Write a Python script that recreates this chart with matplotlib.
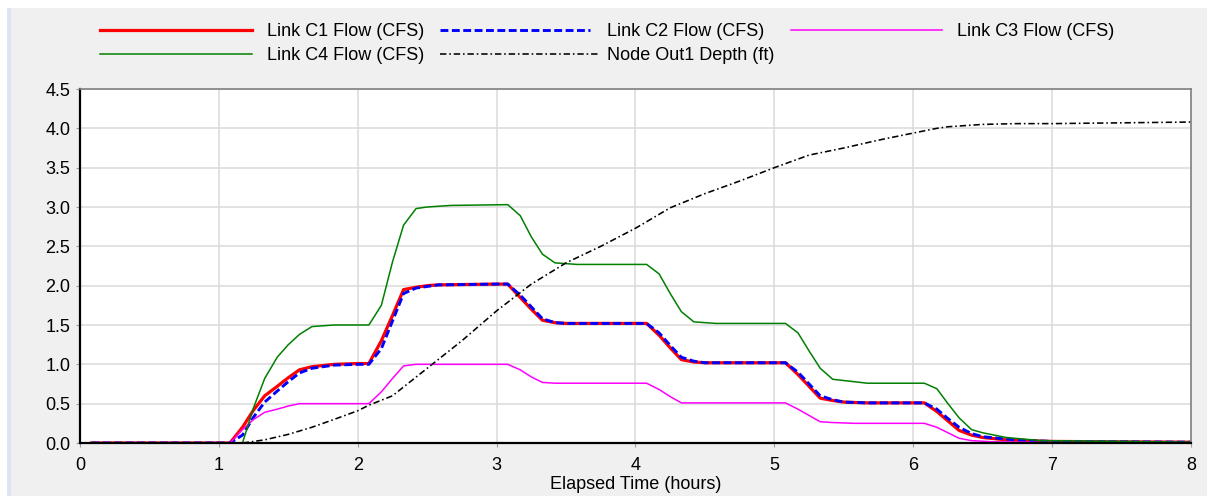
import numpy as np
import matplotlib
matplotlib.use("Agg")
import matplotlib.pyplot as plt
from matplotlib.lines import Line2D
from matplotlib.patches import Rectangle

plt.rcParams['font.family'] = ['Liberation Sans', 'DejaVu Sans']

#########--------- DATA (hours, value)
t_c1 = [0.083, 1.0, 1.08, 1.17, 1.25, 1.33, 1.42, 1.5, 1.58, 1.67, 1.83, 2.0, 2.08, 2.17, 2.25,
        2.33, 2.42, 2.5, 2.58, 3.0, 3.08, 3.17, 3.25, 3.33, 3.42, 3.5, 4.08, 4.17, 4.25, 4.33,
        4.42, 4.5, 5.08, 5.17, 5.25, 5.33, 5.42, 5.5, 5.67, 6.08, 6.17, 6.25, 6.33, 6.42, 6.5,
        6.67, 6.83, 7.0, 7.5, 8.0]
c1_flow = [0, 0, 0.0, 0.2, 0.42, 0.6, 0.72, 0.83, 0.93, 0.97, 1.0, 1.01, 1.01, 1.3, 1.62,
           1.95, 1.98, 2.0, 2.01, 2.02, 2.02, 1.85, 1.7, 1.56, 1.53, 1.52, 1.52, 1.37, 1.21, 1.06,
           1.03, 1.02, 1.02, 0.87, 0.72, 0.57, 0.54, 0.52, 0.51, 0.51, 0.4, 0.28, 0.16, 0.1, 0.07,
           0.04, 0.03, 0.02, 0.015, 0.01]
c2_flow = [0, 0, 0.0, 0.1, 0.33, 0.52, 0.66, 0.78, 0.89, 0.95, 0.99, 1.0, 1.0, 1.2, 1.55,
           1.9, 1.97, 1.99, 2.01, 2.02, 2.02, 1.88, 1.73, 1.58, 1.53, 1.52, 1.52, 1.4, 1.24, 1.09,
           1.04, 1.02, 1.02, 0.9, 0.75, 0.6, 0.55, 0.52, 0.51, 0.51, 0.43, 0.31, 0.2, 0.12, 0.08,
           0.05, 0.03, 0.02, 0.015, 0.01]

t_c3 = [0.083, 1.08, 1.17, 1.25, 1.33, 1.42, 1.5, 1.58, 2.08, 2.17, 2.25, 2.33, 2.42, 3.08,
        3.17, 3.25, 3.33, 3.42, 4.08, 4.17, 4.25, 4.33, 4.42, 5.08, 5.17, 5.25, 5.33, 5.42,
        5.58, 6.08, 6.17, 6.25, 6.33, 6.42, 6.58, 6.83, 7.0, 8.0]
c3_flow = [0, 0, 0.17, 0.3, 0.39, 0.43, 0.47, 0.5, 0.5, 0.65, 0.82, 0.98, 1.0, 1.0,
           0.93, 0.84, 0.77, 0.76, 0.76, 0.68, 0.59, 0.51, 0.51, 0.51, 0.43, 0.35, 0.27, 0.26,
           0.25, 0.25, 0.2, 0.13, 0.06, 0.03, 0.015, 0.01, 0.005, 0.003]

t_c4 = [0.083, 1.17, 1.25, 1.33, 1.42, 1.5, 1.58, 1.67, 1.83, 2.08, 2.17, 2.25, 2.33, 2.42,
        2.5, 2.67, 3.08, 3.17, 3.25, 3.33, 3.42, 3.58, 4.08, 4.17, 4.25, 4.33, 4.42, 4.58,
        5.08, 5.17, 5.25, 5.33, 5.42, 5.67, 6.08, 6.17, 6.25, 6.33, 6.42, 6.5, 6.67, 6.92,
        7.5, 8.0]
c4_flow = [0, 0, 0.45, 0.82, 1.09, 1.25, 1.38, 1.48, 1.5, 1.5, 1.75, 2.3, 2.77, 2.98,
           3.0, 3.02, 3.03, 2.89, 2.62, 2.40, 2.29, 2.27, 2.27, 2.15, 1.9, 1.67, 1.54, 1.52,
           1.52, 1.40, 1.17, 0.95, 0.81, 0.76, 0.76, 0.69, 0.5, 0.32, 0.17, 0.13, 0.07, 0.03,
           0.02, 0.01]

t_out1 = [0.083, 1.08, 1.17, 1.33, 1.5, 1.67, 1.83, 2.0, 2.08, 2.25, 2.5, 2.75, 3.0, 3.25,
          3.5, 3.75, 4.0, 4.25, 4.5, 4.75, 5.0, 5.25, 5.5, 5.75, 6.0, 6.17, 6.25, 6.5, 6.75,
          7.0, 7.5, 8.0]
out1_depth = [0, 0, 0.0, 0.04, 0.11, 0.2, 0.3, 0.41, 0.48, 0.6, 0.95, 1.3, 1.68, 2.02,
              2.29, 2.5, 2.73, 2.99, 3.17, 3.33, 3.5, 3.66, 3.75, 3.85, 3.94, 4.0, 4.02, 4.05,
              4.06, 4.06, 4.07, 4.08]

labels = ["Link C1 Flow (CFS)", "Link C2 Flow (CFS)", "Link C3 Flow (CFS)",
          "Link C4 Flow (CFS)", "Node Out1 Depth (ft)"]
x_ticks = [0, 1, 2, 3, 4, 5, 6, 7, 8]
y_ticks = [0.0, 0.5, 1.0, 1.5, 2.0, 2.5, 3.0, 3.5, 4.0, 4.5]

#########--------- STYLES
styles = [
    dict(color="#FF0000", lw=2.3, ls="-"),
    dict(color="#0000FF", lw=2.1, ls=(0, (2.7, 1.2))),
    dict(color="#FF00FF", lw=1.1, ls="-"),
    dict(color="#008000", lw=1.1, ls="-"),
    dict(color="#000000", lw=1.15, ls=(0, (4.0, 1.8, 1, 1.8))),
]
series = [(t_c1, c1_flow), (t_c1, c2_flow), (t_c3, c3_flow), (t_c4, c4_flow), (t_out1, out1_depth)]

W, H = 1207, 496
fig = plt.figure(figsize=(W / 100, H / 100), dpi=100)
fig.patch.set_facecolor("white")

# panel background
fig.patches.append(Rectangle((11 / W, 0), 1, 1 - 8 / H, transform=fig.transFigure,
                             facecolor="#F0F0F0", edgecolor="none", zorder=-10))
fig.patches.append(Rectangle((7 / W, 0), 4 / W, 1 - 8 / H, transform=fig.transFigure,
                             facecolor="#D9E5F2", edgecolor="none", zorder=-10))

ax = fig.add_axes([80 / W, 1 - 443 / H, (1191 - 80) / W, (443 - 89) / H])
ax.set_facecolor("white")

for (tt, vv), st in zip(series, styles):
    ax.plot(tt, vv, color=st["color"], lw=st["lw"], ls=st["ls"], solid_joinstyle="round")

ax.set_xlim(0, 8)
ax.set_ylim(0, 4.5)
ax.set_xticks(x_ticks)
ax.set_yticks(y_ticks)
ax.set_yticklabels([f"{v:.1f}" for v in y_ticks])
ax.grid(True, color="#DADADA", lw=1.1)
ax.set_axisbelow(True)
ax.tick_params(labelsize=13, length=3, color="#A0A0A0", pad=4)
ax.tick_params(axis="x", pad=7)
for side in ["left", "bottom"]:
    ax.spines[side].set_color("black")
    ax.spines[side].set_linewidth(1.6)
for side in ["top", "right"]:
    ax.spines[side].set_color("#808080")
    ax.spines[side].set_linewidth(1.2)
ax.set_xlabel("Elapsed Time (hours)", fontsize=13, labelpad=1.5)

#########--------- LEGEND (manual, two rows x three columns)
leg_pos = [(100, 252, 267, 30), (440, 590, 607, 30), (791, 942, 957, 30),
           (100, 252, 267, 54), (440, 600, 607, 54)]
for (x0, x1, xt, y), st, lab in zip(leg_pos, styles, labels):
    fig.add_artist(Line2D([x0 / W, x1 / W], [1 - y / H, 1 - y / H], transform=fig.transFigure,
                          color=st["color"], lw=st["lw"], ls=st["ls"]))
    fig.text(xt / W, 1 - (y + 1) / H, lab, fontsize=13, va="center", ha="left")

fig.savefig("out.png", dpi=100, facecolor=fig.get_facecolor())
